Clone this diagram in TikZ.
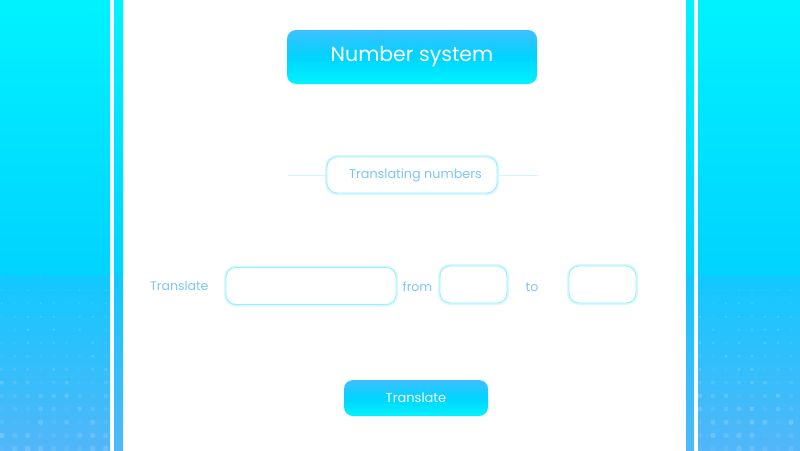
\documentclass[tikz,border=0pt]{standalone}
\usepackage{fontspec}
\setmainfont{Poppins}
\usetikzlibrary{positioning}

\definecolor{sidetop}{HTML}{00F2FF}
\definecolor{sidemid}{HTML}{00D3FF}
\definecolor{sidelow}{HTML}{12C8FF}
\definecolor{sidebot}{HTML}{52B6F8}
\definecolor{btntop}{HTML}{3CC0FF}
\definecolor{btnmid}{HTML}{00D4FF}
\definecolor{btnbot}{HTML}{00F3FF}
\definecolor{glowsoft}{HTML}{D6F9FF}
\definecolor{glowline}{HTML}{9AEEFF}
\definecolor{labelblue}{HTML}{7DC6F4}

\begin{document}
\begin{tikzpicture}[
    x=1pt, y=-1pt,
    upshade/.style={top color=sidetop, bottom color=sidemid, draw=none},
    downshade/.style={top color=sidelow, bottom color=sidebot, draw=none},
    btnbox/.style={rounded corners=9pt, top color=btntop, bottom color=btnbot, middle color=btnmid,
                   text=white, inner sep=0pt, align=center},
    glowbox/.style={rounded corners=10pt, fill=white, draw=glowline, line width=0.9pt,
                    preaction={draw=glowsoft, line width=4pt}, inner sep=0pt},
    lbl/.style={text=labelblue, inner sep=0pt, font=\fontsize{12.5}{14}\selectfont},
    dot/.style={fill=white, draw=none},
    ]
    \useasboundingbox (0,0) rectangle (800,450);

    % side panels and thin bars
    \foreach \xa/\xb in {0/110, 114/123, 686/694, 698/800} {
        \fill[upshade] (\xa,0) rectangle (\xb,276);
        \fill[downshade] (\xa,276) rectangle (\xb,450);
    }

    % dot pattern on the panels
    \pgfmathsetseed{7}
    \foreach \row in {0,...,13} {
        \foreach \col in {0,...,8} {
            \pgfmathsetmacro{\op}{0.03+0.16*rnd}
            \pgfmathsetmacro{\rad}{0.7+0.17*\row}
            \fill[dot, opacity=\op] (1.7+13*\col, 277+13.2*\row) circle (\rad);
            \pgfmathsetmacro{\op}{0.03+0.16*rnd}
            \fill[dot, opacity=\op] (700+13*\col, 277+13.2*\row) circle (\rad);
        }
    }

    % title
    \node[btnbox, minimum width=250, minimum height=54,
          font=\fontsize{20.5}{24}\selectfont] (title) at (412,57) {Number system};

    % section heading with side rules
    \coordinate (rulel) at (288,175);
    \coordinate (ruler) at (538,175);
    \draw[glowline!50, line width=0.6pt] (rulel) -- (ruler);
    \node[glowbox, minimum width=170, minimum height=36,
          text=labelblue, font=\fontsize{12.8}{15}\selectfont] (head) at (412,175) {\hspace{7pt}Translating numbers};

    % input row
    \node[glowbox, minimum width=170, minimum height=37] (numbox) at (311,286) {};
    \node[glowbox, minimum width=67, minimum height=37] (frombox) at (473.5,284.5) {};
    \node[glowbox, minimum width=67, minimum height=37] (tobox) at (602.5,284.5) {};
    \node[lbl, left=17pt of numbox] (trlabel) {Translate};
    \node[lbl, right=6pt of numbox, yshift=-1pt] (fromlabel) {from};
    \node[lbl] (tolabel) at (532,287) {to};

    % button
    \node[btnbox, minimum width=144, minimum height=36,
          font=\fontsize{13}{15}\selectfont] (go) at (416,398) {Translate};
\end{tikzpicture}
\end{document}
